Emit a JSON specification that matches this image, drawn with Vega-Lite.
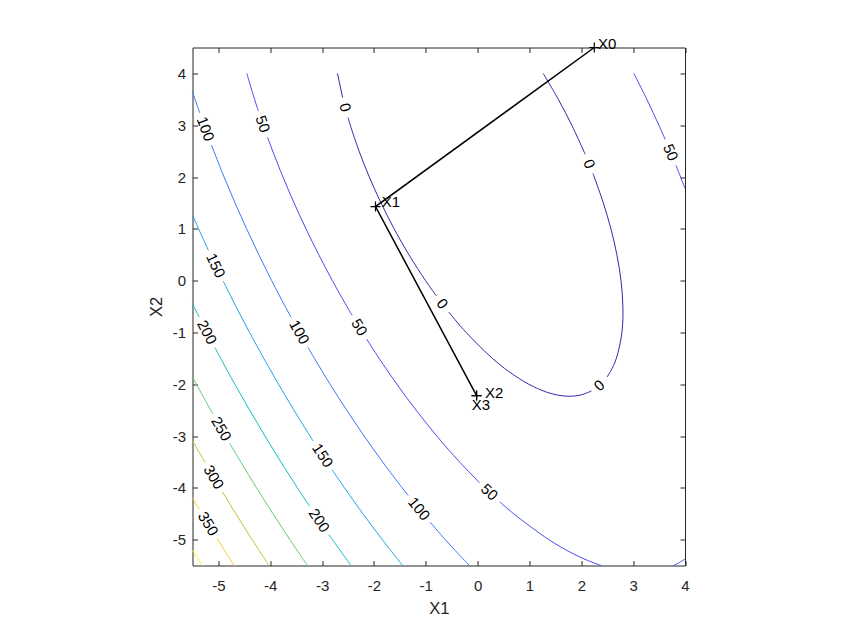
{
  "$schema": "https://vega.github.io/schema/vega-lite/v6.json",
  "width": 492.5,
  "height": 518,
  "autosize": {"type": "none"},
  "padding": {"left": 192.5, "top": 47.5, "right": 164, "bottom": 70.5},
  "background": "white",
  "config": {
    "view": {"stroke": null},
    "font": "Liberation Sans",
    "axis": {
      "grid": false,
      "domainColor": "#262626",
      "tickColor": "#262626",
      "labelColor": "#262626",
      "titleColor": "#262626",
      "labelFont": "Liberation Sans",
      "titleFont": "Liberation Sans",
      "labelFontSize": 15,
      "titleFontSize": 16.5,
      "titleFontWeight": "normal",
      "tickSize": -5,
      "domainWidth": 1,
      "tickWidth": 1,
      "labelFlush": false,
      "labelOverlap": false
    }
  },
  "datasets": {
    "contours": [
      {"level":0,"seg":"0a","i":0,"x":-2.704,"y":4},
      {"level":0,"seg":"0a","i":1,"x":-2.604,"y":3.533},
      {"level":0,"seg":"0b","i":0,"x":-2.5,"y":3.147},
      {"level":0,"seg":"0b","i":1,"x":-2.456,"y":3},
      {"level":0,"seg":"0b","i":2,"x":-2.287,"y":2.5},
      {"level":0,"seg":"0b","i":3,"x":-2.089,"y":2},
      {"level":0,"seg":"0b","i":4,"x":-1.864,"y":1.5},
      {"level":0,"seg":"0b","i":5,"x":-1.611,"y":1},
      {"level":0,"seg":"0b","i":6,"x":-1.326,"y":0.5},
      {"level":0,"seg":"0b","i":7,"x":-1.005,"y":0},
      {"level":0,"seg":"0b","i":8,"x":-0.8,"y":-0.291},
      {"level":0,"seg":"0c","i":0,"x":-0.556,"y":-0.609},
      {"level":0,"seg":"0c","i":1,"x":-0.223,"y":-1},
      {"level":0,"seg":"0c","i":2,"x":0.284,"y":-1.5},
      {"level":0,"seg":"0c","i":3,"x":0.594,"y":-1.75},
      {"level":0,"seg":"0c","i":4,"x":0.985,"y":-2},
      {"level":0,"seg":"0c","i":5,"x":1.322,"y":-2.15},
      {"level":0,"seg":"0c","i":6,"x":1.544,"y":-2.21},
      {"level":0,"seg":"0c","i":7,"x":1.773,"y":-2.233},
      {"level":0,"seg":"0c","i":8,"x":1.984,"y":-2.21},
      {"level":0,"seg":"0c","i":9,"x":2.197,"y":-2.13},
      {"level":0,"seg":"0d","i":0,"x":2.495,"y":-1.861},
      {"level":0,"seg":"0d","i":1,"x":2.566,"y":-1.75},
      {"level":0,"seg":"0d","i":2,"x":2.676,"y":-1.5},
      {"level":0,"seg":"0d","i":3,"x":2.783,"y":-1},
      {"level":0,"seg":"0d","i":4,"x":2.802,"y":-0.5},
      {"level":0,"seg":"0d","i":5,"x":2.765,"y":0},
      {"level":0,"seg":"0d","i":6,"x":2.686,"y":0.5},
      {"level":0,"seg":"0d","i":7,"x":2.571,"y":1},
      {"level":0,"seg":"0d","i":8,"x":2.424,"y":1.5},
      {"level":0,"seg":"0d","i":9,"x":2.249,"y":2},
      {"level":0,"seg":"0d","i":10,"x":2.224,"y":2.067},
      {"level":0,"seg":"0e","i":0,"x":2.074,"y":2.437},
      {"level":0,"seg":"0e","i":1,"x":2.047,"y":2.5},
      {"level":0,"seg":"0e","i":2,"x":1.816,"y":3},
      {"level":0,"seg":"0e","i":3,"x":1.556,"y":3.5},
      {"level":0,"seg":"0e","i":4,"x":1.264,"y":4},
      {"level":50,"seg":"50a","i":0,"x":-4.453,"y":4},
      {"level":50,"seg":"50a","i":1,"x":-4.303,"y":3.5},
      {"level":50,"seg":"50a","i":2,"x":-4.231,"y":3.278},
      {"level":50,"seg":"50b","i":0,"x":-4.053,"y":2.768},
      {"level":50,"seg":"50b","i":1,"x":-3.953,"y":2.5},
      {"level":50,"seg":"50b","i":2,"x":-3.755,"y":2},
      {"level":50,"seg":"50b","i":3,"x":-3.541,"y":1.5},
      {"level":50,"seg":"50b","i":4,"x":-3.311,"y":1},
      {"level":50,"seg":"50b","i":5,"x":-3.065,"y":0.5},
      {"level":50,"seg":"50b","i":6,"x":-2.802,"y":0},
      {"level":50,"seg":"50b","i":7,"x":-2.521,"y":-0.5},
      {"level":50,"seg":"50b","i":8,"x":-2.421,"y":-0.67},
      {"level":50,"seg":"50c","i":0,"x":-2.139,"y":-1.132},
      {"level":50,"seg":"50c","i":1,"x":-1.901,"y":-1.5},
      {"level":50,"seg":"50c","i":2,"x":-1.558,"y":-2},
      {"level":50,"seg":"50c","i":3,"x":-1.188,"y":-2.5},
      {"level":50,"seg":"50c","i":4,"x":-0.788,"y":-3},
      {"level":50,"seg":"50c","i":5,"x":-0.35,"y":-3.5},
      {"level":50,"seg":"50c","i":6,"x":0.034,"y":-3.899},
      {"level":50,"seg":"50d","i":0,"x":0.428,"y":-4.271},
      {"level":50,"seg":"50d","i":1,"x":0.694,"y":-4.5},
      {"level":50,"seg":"50d","i":2,"x":1.372,"y":-5},
      {"level":50,"seg":"50d","i":3,"x":1.799,"y":-5.25},
      {"level":50,"seg":"50d","i":4,"x":2.116,"y":-5.4},
      {"level":50,"seg":"50d","i":5,"x":2.383,"y":-5.5},
      {"level":50,"seg":"50e","i":0,"x":3.777,"y":-5.5},
      {"level":50,"seg":"50e","i":1,"x":3.879,"y":-5.45},
      {"level":50,"seg":"50e","i":2,"x":4,"y":-5.376},
      {"level":50,"seg":"50f","i":0,"x":4,"y":1.776},
      {"level":50,"seg":"50f","i":1,"x":3.915,"y":2},
      {"level":50,"seg":"50f","i":2,"x":3.825,"y":2.226},
      {"level":50,"seg":"50g","i":0,"x":3.618,"y":2.724},
      {"level":50,"seg":"50g","i":1,"x":3.496,"y":3},
      {"level":50,"seg":"50g","i":2,"x":3.263,"y":3.5},
      {"level":50,"seg":"50g","i":3,"x":3.013,"y":4},
      {"level":100,"seg":"100a","i":0,"x":-5.5,"y":3.649},
      {"level":100,"seg":"100a","i":1,"x":-5.451,"y":3.5},
      {"level":100,"seg":"100a","i":2,"x":-5.36,"y":3.237},
      {"level":100,"seg":"100b","i":0,"x":-5.134,"y":2.617},
      {"level":100,"seg":"100b","i":1,"x":-5.089,"y":2.5},
      {"level":100,"seg":"100b","i":2,"x":-4.891,"y":2},
      {"level":100,"seg":"100b","i":3,"x":-4.68,"y":1.5},
      {"level":100,"seg":"100b","i":4,"x":-4.457,"y":1},
      {"level":100,"seg":"100b","i":5,"x":-4.221,"y":0.5},
      {"level":100,"seg":"100b","i":6,"x":-3.973,"y":0},
      {"level":100,"seg":"100b","i":7,"x":-3.712,"y":-0.5},
      {"level":100,"seg":"100b","i":8,"x":-3.599,"y":-0.709},
      {"level":100,"seg":"100c","i":0,"x":-3.275,"y":-1.285},
      {"level":100,"seg":"100c","i":1,"x":-3.149,"y":-1.5},
      {"level":100,"seg":"100c","i":2,"x":-2.846,"y":-2},
      {"level":100,"seg":"100c","i":3,"x":-2.526,"y":-2.5},
      {"level":100,"seg":"100c","i":4,"x":-2.189,"y":-3},
      {"level":100,"seg":"100c","i":5,"x":-1.833,"y":-3.5},
      {"level":100,"seg":"100c","i":6,"x":-1.456,"y":-4},
      {"level":100,"seg":"100c","i":7,"x":-1.338,"y":-4.15},
      {"level":100,"seg":"100d","i":0,"x":-0.92,"y":-4.66},
      {"level":100,"seg":"100d","i":1,"x":-0.624,"y":-5},
      {"level":100,"seg":"100d","i":2,"x":-0.396,"y":-5.25},
      {"level":100,"seg":"100d","i":3,"x":-0.158,"y":-5.5},
      {"level":150,"seg":"150a","i":0,"x":-5.5,"y":1.2645},
      {"level":150,"seg":"150a","i":1,"x":-5.383,"y":1},
      {"level":150,"seg":"150a","i":2,"x":-5.194,"y":0.587},
      {"level":150,"seg":"150b","i":0,"x":-4.908,"y":-0.009},
      {"level":150,"seg":"150b","i":1,"x":-4.662,"y":-0.5},
      {"level":150,"seg":"150b","i":2,"x":-4.4,"y":-1},
      {"level":150,"seg":"150b","i":3,"x":-4.126,"y":-1.5},
      {"level":150,"seg":"150b","i":4,"x":-3.841,"y":-2},
      {"level":150,"seg":"150b","i":5,"x":-3.544,"y":-2.5},
      {"level":150,"seg":"150b","i":6,"x":-3.233,"y":-3},
      {"level":150,"seg":"150b","i":7,"x":-3.169,"y":-3.1},
      {"level":150,"seg":"150c","i":0,"x":-2.807,"y":-3.652},
      {"level":150,"seg":"150c","i":1,"x":-2.569,"y":-4},
      {"level":150,"seg":"150c","i":2,"x":-2.213,"y":-4.5},
      {"level":150,"seg":"150c","i":3,"x":-1.84,"y":-5},
      {"level":150,"seg":"150c","i":4,"x":-1.446,"y":-5.5},
      {"level":200,"seg":"200a","i":0,"x":-5.5,"y":-0.4495},
      {"level":200,"seg":"200a","i":1,"x":-5.475,"y":-0.5},
      {"level":200,"seg":"200a","i":2,"x":-5.372,"y":-0.704},
      {"level":200,"seg":"200b","i":0,"x":-5.069,"y":-1.29},
      {"level":200,"seg":"200b","i":1,"x":-4.957,"y":-1.5},
      {"level":200,"seg":"200b","i":2,"x":-4.683,"y":-2},
      {"level":200,"seg":"200b","i":3,"x":-4.398,"y":-2.5},
      {"level":200,"seg":"200b","i":4,"x":-4.103,"y":-3},
      {"level":200,"seg":"200b","i":5,"x":-3.796,"y":-3.5},
      {"level":200,"seg":"200b","i":6,"x":-3.477,"y":-4},
      {"level":200,"seg":"200b","i":7,"x":-3.242,"y":-4.358},
      {"level":200,"seg":"200c","i":0,"x":-2.868,"y":-4.904},
      {"level":200,"seg":"200c","i":1,"x":-2.801,"y":-5},
      {"level":200,"seg":"200c","i":2,"x":-2.441,"y":-5.5},
      {"level":250,"seg":"250a","i":0,"x":-5.5,"y":-1.861},
      {"level":250,"seg":"250a","i":1,"x":-5.425,"y":-2},
      {"level":250,"seg":"250a","i":2,"x":-5.15,"y":-2.5},
      {"level":250,"seg":"250a","i":3,"x":-5.107,"y":-2.575},
      {"level":250,"seg":"250b","i":0,"x":-4.779,"y":-3.147},
      {"level":250,"seg":"250b","i":1,"x":-4.57,"y":-3.5},
      {"level":250,"seg":"250b","i":2,"x":-4.265,"y":-4},
      {"level":250,"seg":"250b","i":3,"x":-3.949,"y":-4.5},
      {"level":250,"seg":"250b","i":4,"x":-3.622,"y":-5},
      {"level":250,"seg":"250b","i":5,"x":-3.283,"y":-5.5},
      {"level":300,"seg":"300a","i":0,"x":-5.5,"y":-3.0895},
      {"level":300,"seg":"300a","i":1,"x":-5.38,"y":-3.3},
      {"level":300,"seg":"300a","i":2,"x":-5.258,"y":-3.511},
      {"level":300,"seg":"300b","i":0,"x":-4.922,"y":-4.079},
      {"level":300,"seg":"300b","i":1,"x":-4.665,"y":-4.5},
      {"level":300,"seg":"300b","i":2,"x":-4.35,"y":-5},
      {"level":300,"seg":"300b","i":3,"x":-4.025,"y":-5.5},
      {"level":350,"seg":"350a","i":0,"x":-5.5,"y":-4.192},
      {"level":350,"seg":"350a","i":1,"x":-5.369,"y":-4.412},
      {"level":350,"seg":"350b","i":0,"x":-5.026,"y":-4.976},
      {"level":350,"seg":"350b","i":1,"x":-4.856,"y":-5.25},
      {"level":350,"seg":"350b","i":2,"x":-4.697,"y":-5.5},
      {"level":400,"seg":"400a","i":0,"x":-5.5,"y":-5.2},
      {"level":400,"seg":"400a","i":1,"x":-5.316,"y":-5.5}
    ],
    "clabels": [
      {"text":"0","x":-2.556,"y":3.344,"rot":75},
      {"text":"0","x":-0.681,"y":-0.45,"rot":52.7},
      {"text":"0","x":2.346,"y":-2.026,"rot":-41.7},
      {"text":"0","x":2.151,"y":2.252,"rot":67.9},
      {"text":"50","x":-4.144,"y":3.023,"rot":70.8},
      {"text":"50","x":-2.282,"y":-0.901,"rot":58.6},
      {"text":"50","x":0.226,"y":-4.085,"rot":43.5},
      {"text":"50","x":3.724,"y":2.475,"rot":67.3},
      {"text":"100","x":-5.25,"y":2.927,"rot":69.9},
      {"text":"100","x":-3.44,"y":-0.997,"rot":60.7},
      {"text":"100","x":-1.132,"y":-4.405,"rot":50.7},
      {"text":"150","x":-5.053,"y":0.289,"rot":64.4},
      {"text":"150","x":-2.99,"y":-3.376,"rot":56.8},
      {"text":"200","x":-5.222,"y":-0.997,"rot":62.6},
      {"text":"200","x":-3.057,"y":-4.631,"rot":55.7},
      {"text":"250","x":-4.945,"y":-2.861,"rot":60.2},
      {"text":"300","x":-5.091,"y":-3.795,"rot":59.4},
      {"text":"350","x":-5.199,"y":-4.694,"rot":58.7}
    ],
    "path": [
      {"step":0,"name":"X0","x":2.25,"y":4.5},
      {"step":1,"name":"X1","x":-1.97,"y":1.43},
      {"step":2,"name":"X2","x":-0.02,"y":-2.22},
      {"step":3,"name":"X3","x":-0.02,"y":-2.22}
    ],
    "plabels": [
      {"name":"X0","x":2.323,"y":4.568},
      {"name":"X1","x":-1.85,"y":1.517},
      {"name":"X2","x":0.14,"y":-2.176},
      {"name":"X3","x":-0.114,"y":-2.407}
    ]
  },
  "resolve": {"axis": {"x": "independent", "y": "independent"}},
  "layer": [
    {
      "data": {"name": "contours"},
      "mark": {"type": "line", "interpolate": "catmull-rom", "strokeWidth": 1},
      "encoding": {
        "x": {"field": "x", "type": "quantitative",
              "scale": {"domain": [-5.5, 4], "nice": false, "zero": false},
              "axis": {"orient": "bottom", "values": [-5,-4,-3,-2,-1,0,1,2,3,4], "title": "X1",
                       "labelPadding": 18, "titleY": 47.5, "titleBaseline": "alphabetic",
                       "labelExpr": "datum.value < 0 ? '-' + abs(datum.value) : '' + datum.value"}},
        "y": {"field": "y", "type": "quantitative",
              "scale": {"domain": [-5.5, 4.5], "nice": false, "zero": false},
              "axis": {"orient": "left", "values": [-5,-4,-3,-2,-1,0,1,2,3,4], "title": "X2",
                       "labelPadding": 12, "titleX": -31, "titleBaseline": "alphabetic",
                       "labelExpr": "datum.value < 0 ? '-' + abs(datum.value) : '' + datum.value"}},
        "color": {"field": "level", "type": "ordinal",
                  "scale": {"domain": [0,50,100,150,200,250,300,350,400],
                            "range": ["#3E26A8","#484CEF","#337AFD","#21A3E3","#12BEB9","#5CCC76","#C8C129","#FDCA33","#F9FB15"]},
                  "legend": null},
        "detail": {"field": "seg"},
        "order": {"field": "i", "type": "quantitative"}
      }
    },
    {
      "data": {"name": "path"},
      "mark": {"type": "line", "color": "black", "strokeWidth": 1.5},
      "encoding": {
        "x": {"field": "x", "type": "quantitative",
              "scale": {"domain": [-5.5, 4], "nice": false, "zero": false},
              "axis": {"orient": "top", "values": [-5,-4,-3,-2,-1,0,1,2,3,4], "labels": false, "title": null}},
        "y": {"field": "y", "type": "quantitative",
              "scale": {"domain": [-5.5, 4.5], "nice": false, "zero": false},
              "axis": {"orient": "right", "values": [-5,-4,-3,-2,-1,0,1,2,3,4], "labels": false, "title": null}},
        "order": {"field": "step", "type": "quantitative"}
      }
    },
    {
      "data": {"name": "path"},
      "mark": {"type": "point", "shape": "M-1,0L1,0M0,-1L0,1", "size": 100, "filled": false, "stroke": "black", "strokeWidth": 1.2, "opacity": 1},
      "encoding": {
        "x": {"field": "x", "type": "quantitative", "axis": null},
        "y": {"field": "y", "type": "quantitative", "axis": null}
      }
    },
    {
      "data": {"name": "clabels"},
      "mark": {"type": "text", "align": "center", "baseline": "middle", "fontSize": 15, "font": "Liberation Sans", "color": "black"},
      "encoding": {
        "x": {"field": "x", "type": "quantitative", "axis": null},
        "y": {"field": "y", "type": "quantitative", "axis": null},
        "text": {"field": "text"},
        "angle": {"field": "rot", "type": "quantitative", "scale": null}
      }
    },
    {
      "data": {"name": "plabels"},
      "mark": {"type": "text", "align": "left", "baseline": "middle", "fontSize": 15, "font": "Liberation Sans", "color": "black"},
      "encoding": {
        "x": {"field": "x", "type": "quantitative", "axis": null},
        "y": {"field": "y", "type": "quantitative", "axis": null},
        "text": {"field": "name"}
      }
    }
  ]
}
